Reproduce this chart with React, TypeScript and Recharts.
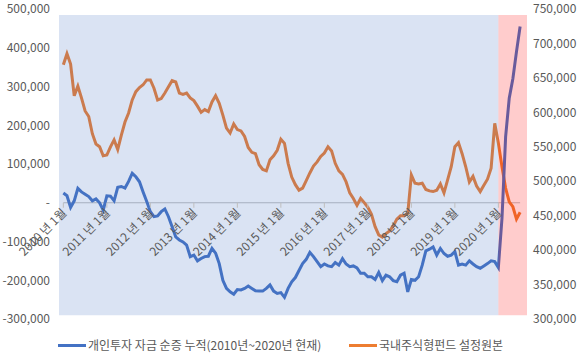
import React from 'react';
import { LineChart, Line, XAxis, YAxis, ReferenceArea, ReferenceLine } from 'recharts';

// values in thousands (천원 단위 아님, 축 라벨에서 x1000)
const individualFlow = [
  25, 18, -12, 5, 37, 28, 22, 16, 5, 10, 0, -19,
  18, 17, 5, 40, 42, 38, 55, 76, 67, 54, 28, 3,
  -23, -36, -34, -23, -16, -36, -62, -88, -96, -101, -109, -139,
  -135, -150, -144, -139, -138, -118, -130, -157, -200, -221, -230, -236,
  -224, -225, -221, -215, -221, -227, -228, -228, -221, -212, -228, -234,
  -232, -244, -221, -204, -193, -175, -157, -146, -128, -139, -152, -165,
  -158, -163, -165, -154, -161, -144, -158, -165, -163, -168, -182, -182,
  -191, -191, -198, -180, -201, -187, -191, -201, -204, -187, -182, -230,
  -198, -200, -191, -161, -124, -120, -114, -135, -118, -131, -138, -135,
  -126, -161, -158, -161, -150, -158, -165, -169, -163, -157, -150, -152,
  -167, -40, 170, 270, 320, 390, 455,
];

const fundPrincipal = [
  669, 685, 670, 624, 638, 621, 602, 594, 569, 554, 550, 537,
  538, 550, 560, 546, 567, 586, 599, 618, 630, 636, 640, 647,
  647, 635, 618, 620, 628, 637, 646, 644, 628, 626, 628, 621,
  617, 609, 600, 604, 601, 615, 624, 613, 596, 577, 570, 583,
  575, 573, 565, 549, 542, 540, 524, 517, 515, 531, 537, 545,
  561, 555, 526, 506, 495, 487, 490, 501, 512, 522, 528, 536,
  541, 550, 544, 526, 515, 510, 499, 483, 475, 465, 475, 469,
  462, 452, 434, 422, 419, 424, 428, 435, 445, 450, 450, 453,
  509, 497, 496, 497, 488, 486, 485, 487, 496, 483, 502, 521,
  550, 556, 540, 521, 499, 507, 493, 485, 494, 503, 519, 584,
  555, 521, 490, 470, 463, 445, 455,
];

const yearLabels = [
  '2010 년 1월', '2011 년 1월', '2012 년 1월', '2013 년 1월', '2014 년 1월', '2015 년 1월',
  '2016 년 1월', '2017 년 1월', '2018 년 1월', '2019 년 1월', '2020 년 1월',
];
const yearTicks = yearLabels.map((_, k) => k * 12);

const leftTicks = [-300, -200, -100, 0, 100, 200, 300, 400, 500];
const rightTicks = [300, 350, 400, 450, 500, 550, 600, 650, 700, 750];

const seriesNames = ['개인투자 자금 순증 누적(2010년~2020년 현재)', '국내주식형펀드 설정원본'];

const data = individualFlow.map((v, i) => ({ i, flow: v, fund: fundPrincipal[i] }));

const FONT = "'Noto Sans CJK KR', 'Noto Sans', sans-serif";
const GRAY = '#595959';
const BLUE = '#4472C4';
const ORANGE = '#ED7D31';

const PLOT_TOP = 9;
const PLOT_H = 310;
const ZERO_Y = PLOT_TOP + (PLOT_H * 500) / 800;

const fmt = (v: number) => (v === 0 ? '-' : (v * 1000).toLocaleString('en-US'));

function YearTick(props: any) {
  const { x, payload } = props;
  const idx = yearTicks.indexOf(payload.value);
  const tx = x + 1;
  const ty = ZERO_Y + 8;
  return (
    <g>
      <line x1={x} y1={ZERO_Y} x2={x} y2={ZERO_Y + 5} stroke="#BFBFBF" />
      <text
        x={tx}
        y={ty}
        dy="0.35em"
        textAnchor="end"
        transform={`rotate(-45 ${tx} ${ty})`}
        fill={GRAY}
        fontSize={12}
        fontFamily={FONT}
      >
        {yearLabels[idx]}
      </text>
    </g>
  );
}

export default function App() {
  return (
    <div style={{ position: 'relative', width: 580, height: 358, fontFamily: FONT }}>
      <style>{'body{margin:0}'}</style>
      <LineChart width={580} height={358} data={data} margin={{ top: PLOT_TOP, right: 0, bottom: 9, left: 0 }}>
        <XAxis
          dataKey="i"
          type="number"
          domain={[-1.2, 127.9]}
          ticks={yearTicks}
          interval={0}
          height={30}
          axisLine={false}
          tickLine={false}
          tick={<YearTick />}
        />
        <YAxis
          yAxisId="left"
          width={59}
          domain={[-300, 500]}
          ticks={leftTicks}
          interval={0}
          axisLine={false}
          tickLine={false}
          tickSize={0}
          tickMargin={9}
          tickFormatter={fmt}
          tick={{ fill: GRAY, fontSize: 12, fontFamily: FONT }}
        />
        <YAxis
          yAxisId="right"
          orientation="right"
          width={53}
          domain={[300, 750]}
          ticks={rightTicks}
          interval={0}
          axisLine={false}
          tickLine={false}
          tickSize={0}
          tickMargin={6}
          tickFormatter={fmt}
          tick={{ fill: GRAY, fontSize: 12, fontFamily: FONT, textAnchor: 'start' }}
        />
        <ReferenceLine
          yAxisId="left"
          segment={[{ x: 0, y: 0 }, { x: 126, y: 0 }]}
          stroke="#BFBFBF"
          strokeWidth={1}
        />
        <Line
          yAxisId="right"
          dataKey="fund"
          stroke={ORANGE}
          strokeWidth={3}
          dot={false}
          isAnimationActive={false}
        />
        <Line
          yAxisId="left"
          dataKey="flow"
          stroke={BLUE}
          strokeWidth={3}
          dot={false}
          isAnimationActive={false}
        />
        <ReferenceArea
          yAxisId="left"
          x1={-1.2}
          x2={120}
          y1={-290}
          y2={484.5}
          fill={BLUE}
          fillOpacity={0.2}
          stroke="none"
          zIndex={700}
        />
        <ReferenceArea
          yAxisId="left"
          x1={120}
          x2={127.9}
          y1={-290}
          y2={484.5}
          fill="#FF0000"
          fillOpacity={0.2}
          stroke="none"
          zIndex={700}
        />
      </LineChart>
      <div style={{ position: 'absolute', top: 336, left: 0, height: 18, width: 580, fontSize: 12, color: GRAY }}>
        <div style={{ position: 'absolute', left: 58, top: 8, width: 28, height: 3, background: BLUE }} />
        <div style={{ position: 'absolute', left: 88, top: 0, lineHeight: '18px', whiteSpace: 'nowrap' }}>{seriesNames[0]}</div>
        <div style={{ position: 'absolute', left: 349, top: 8, width: 28, height: 3, background: ORANGE }} />
        <div style={{ position: 'absolute', left: 379, top: 0, lineHeight: '18px', whiteSpace: 'nowrap' }}>{seriesNames[1]}</div>
      </div>
    </div>
  );
}
